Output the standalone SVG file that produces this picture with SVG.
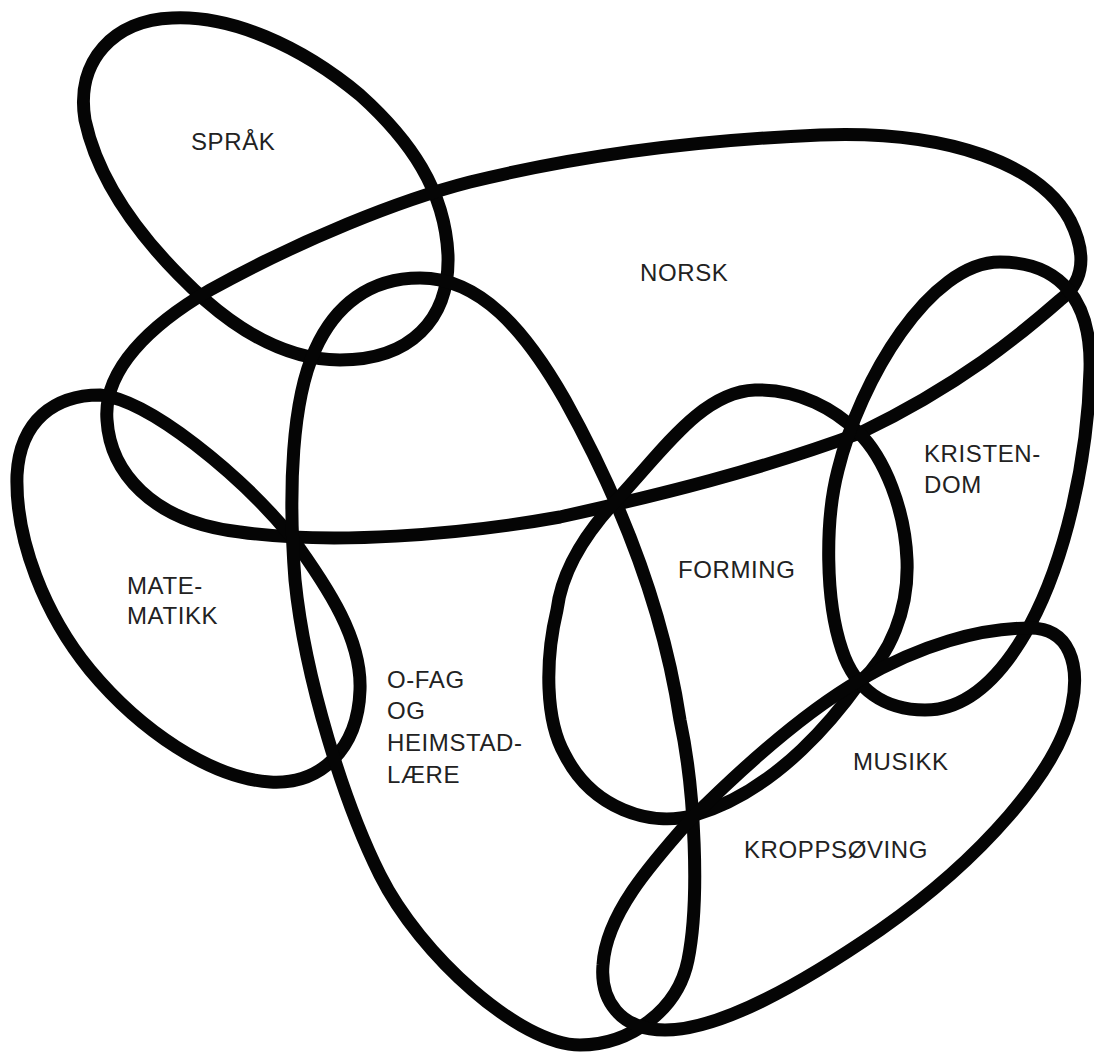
<svg xmlns="http://www.w3.org/2000/svg" width="1094" height="1059" viewBox="0 0 1094 1059">
<style>
.loop{fill:none;stroke:#050505;stroke-width:13;stroke-linejoin:round;stroke-linecap:round}
.lbl{font-family:"Liberation Sans","Helvetica",Arial,sans-serif;font-size:24px;letter-spacing:0.6px;fill:#222}
</style>
<rect width="1094" height="1059" fill="#ffffff"/>
<g id="sprak">
<path class="loop" d="M 172,18 C 230,15 300,45 360,95 C 410,140 445,190 448,255 C 450,320 410,360 340,360 C 290,360 245,335 205,300 C 150,250 100,190 85,120 C 75,60 115,20 172,18 Z"/>
<text class="lbl" x="191" y="150">SPRÅK</text>
</g>
<g id="norsk">
<path class="loop" d="M 107,420 C 103,370 150,325 210,290 C 300,240 400,200 470,182 C 580,155 700,140 820,135 C 950,130 1040,165 1070,220 C 1090,260 1080,285 1060,300 C 1020,335 960,385 860,433 C 760,470 660,495 560,517 C 460,535 330,545 240,532 C 150,522 110,470 107,420 Z"/>
<text class="lbl" x="640" y="281">NORSK</text>
</g>
<g id="matematikk">
<path class="loop" d="M 100,395 C 150,400 240,475 290,535 C 330,590 362,640 360,690 C 358,750 320,785 270,782 C 210,778 140,730 90,670 C 45,615 15,540 17,475 C 20,420 55,395 100,395 Z"/>
<text class="lbl" x="127" y="594">MATE-</text>
<text class="lbl" x="127" y="624">MATIKK</text>
</g>
<g id="ofag">
<path class="loop" d="M 420,278 C 480,278 525,330 565,400 C 615,490 662,600 680,720 C 695,790 700,900 688,960 C 678,1010 630,1045 580,1045 C 520,1045 420,955 380,875 C 345,805 305,680 295,580 C 288,490 292,400 315,350 C 335,305 370,278 420,278 Z"/>
<text class="lbl" x="387" y="688">O-FAG</text>
<text class="lbl" x="387" y="719">OG</text>
<text class="lbl" x="387" y="751">HEIMSTAD-</text>
<text class="lbl" x="387" y="783">LÆRE</text>
</g>
<g id="forming">
<path class="loop" d="M 858,432 C 885,458 905,510 907,560 C 909,610 890,655 860,682 C 840,710 780,790 695,815 C 650,828 592,808 565,755 C 545,720 545,660 557,610 C 562,570 585,535 612,505 C 660,455 700,392 755,390 C 800,389 835,410 858,432 Z"/>
<text class="lbl" x="678" y="578">FORMING</text>
</g>
<g id="kristendom">
<path class="loop" d="M 1000,262 C 1060,262 1092,300 1090,370 C 1088,460 1065,560 1030,625 C 1000,680 965,710 925,710 C 885,710 855,690 842,650 C 825,600 825,520 838,470 C 860,380 930,262 1000,262 Z"/>
<text class="lbl" x="924" y="462">KRISTEN-</text>
<text class="lbl" x="924" y="493">DOM</text>
</g>
<g id="musikk-kroppsoving">
<path class="loop" d="M 860,680 C 920,645 980,628 1030,628 C 1070,628 1080,665 1072,705 C 1060,770 980,860 880,930 C 800,985 720,1030 665,1030 C 620,1030 600,1000 603,965 C 606,915 650,865 690,820 C 740,770 800,715 860,680 Z"/>
<text class="lbl" x="853" y="770">MUSIKK</text>
<text class="lbl" x="744" y="858">KROPPSØVING</text>
</g>
</svg>
